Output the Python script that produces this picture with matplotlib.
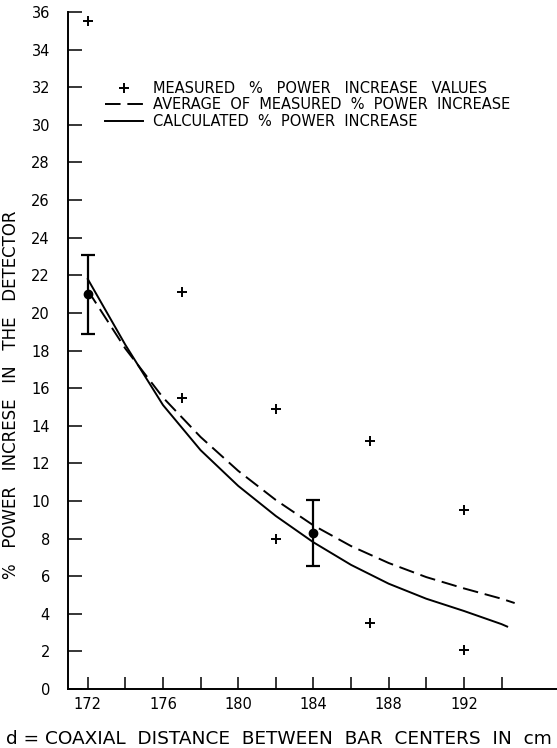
import matplotlib
matplotlib.use("Agg")
import matplotlib.pyplot as plt
import numpy as np

# Measured % power increase values
meas_x = [172, 177, 177, 182, 182, 187, 187, 192, 192]
meas_y = [35.5, 21.1, 15.5, 14.9, 8.0, 13.2, 3.5, 9.5, 2.1]

# Averages with error bars
avg_x = [172, 184]
avg_y = [21.0, 8.3]
avg_lo = [18.9, 6.55]
avg_hi = [23.1, 10.05]

# Average of measured % power increase (dashed curve)
dash_x = [172, 174, 176, 178, 180, 182, 184, 186, 188, 190, 192, 194, 194.7]
dash_y = [21.2, 18.1, 15.5, 13.4, 11.6, 10.05, 8.7, 7.6, 6.7, 5.95, 5.35, 4.8, 4.57]

# Calculated % power increase (solid curve)
calc_x = [172, 174, 176, 178, 180, 182, 184, 186, 188, 190, 192, 194, 194.3]
calc_y = [21.8, 18.3, 15.1, 12.7, 10.8, 9.2, 7.8, 6.6, 5.6, 4.8, 4.15, 3.45, 3.32]

xticks_major = [172, 176, 180, 184, 188, 192]
xticks_minor = [174, 178, 182, 186, 190, 194]
yticks = list(range(0, 37, 2))

plt.rcParams['font.family'] = ['DejaVu Sans']

fig = plt.figure(figsize=(5.57, 7.48), dpi=100)
ax = fig.add_axes([68/557, 59/748, (557-68)/557, (689-12)/748])

ax.plot(calc_x, calc_y, color='black', lw=1.4, label='CALCULATED  %  POWER  INCREASE')
ax.plot(dash_x, dash_y, color='black', lw=1.4, dashes=(8, 3.5),
        label='AVERAGE  OF  MEASURED  %  POWER  INCREASE')
ax.plot(meas_x, meas_y, linestyle='none', marker='+', ms=7, mew=1.4, color='black',
        label='MEASURED   %   POWER   INCREASE   VALUES')

yerr = [np.array(avg_y) - np.array(avg_lo), np.array(avg_hi) - np.array(avg_y)]
ax.errorbar(avg_x, avg_y, yerr=yerr, fmt='o', ms=6, color='black', ecolor='black',
            elinewidth=1.6, capsize=5, capthick=1.6)

ax.set_xlim(170.95, 196.95)
ax.set_ylim(0, 36)

ax.set_xticks(xticks_major)
ax.set_xticks(xticks_minor, minor=True)
ax.set_xticklabels([str(v) for v in xticks_major])
ax.set_yticks(yticks)
ax.set_yticklabels([str(v) for v in yticks])

ax.tick_params(axis='y', direction='in', length=10, width=1.1, pad=13, labelsize=10.5)
ax.tick_params(axis='x', which='both', direction='in', length=8.5, width=1.1, pad=6, labelsize=10.5)

for s in ['top', 'right']:
    ax.spines[s].set_visible(False)
for s in ['left', 'bottom']:
    ax.spines[s].set_linewidth(1.4)

ax.set_ylabel('%   POWER   INCRESE   IN   THE   DETECTOR', fontsize=12)
ax.yaxis.set_label_coords(-0.098, (689 - 395) / 677)
fig.text(0.5, 1 - 739/748, 'd = COAXIAL  DISTANCE  BETWEEN  BAR  CENTERS  IN  cm',
         ha='center', va='center', fontsize=13.3)

handles, labels = ax.get_legend_handles_labels()
order = [2, 1, 0]
leg = ax.legend([handles[i] for i in order], [labels[i] for i in order],
                loc='upper left', bbox_to_anchor=(37/489, 608/677), frameon=False,
                fontsize=10.5, handlelength=2.6, handletextpad=0.7, labelspacing=0.1,
                borderaxespad=0, borderpad=0)

fig.savefig('out.png', dpi=100)
